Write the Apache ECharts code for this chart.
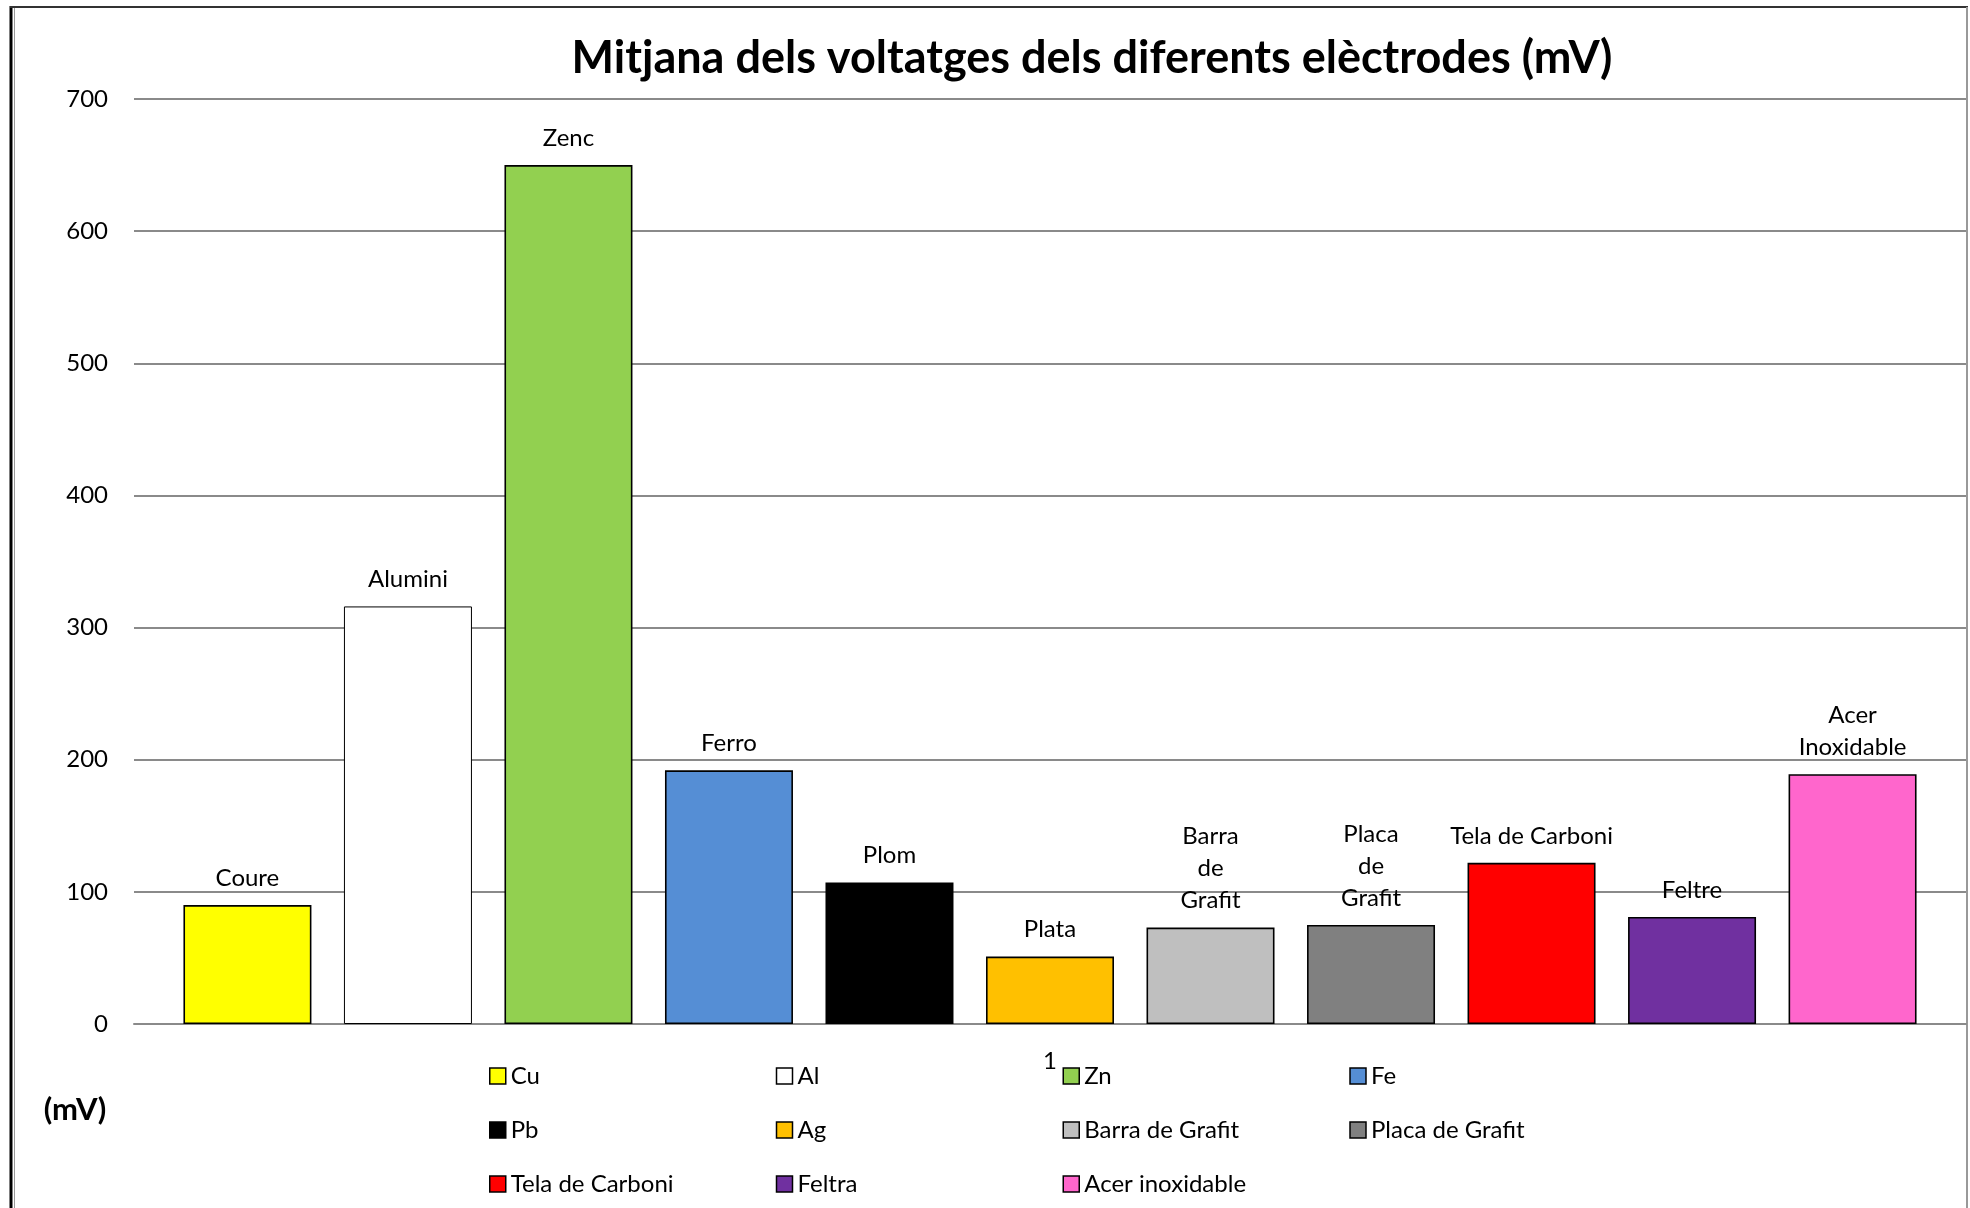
<!DOCTYPE html>
<html>
<head>
<meta charset="utf-8">
<script src="https://cdn.jsdelivr.net/npm/echarts@6/dist/echarts.min.js"></script>
<style>
html,body{margin:0;padding:0;background:#fff;}
#chart{width:1970px;height:1208px;}
</style>
</head>
<body>
<div id="chart"></div>
<script>
const categories = ['1'];
const seriesNames = ['Cu','Al','Zn','Fe','Pb','Ag','Barra de Grafit','Placa de Grafit','Tela de Carboni','Feltra','Acer inoxidable'];
const barLabels = ['Coure','Alumini','Zenc','Ferro','Plom','Plata','Barra\nde\nGrafit','Placa\nde\nGrafit','Tela de Carboni','Feltre','Acer\nInoxidable'];
const values = [90,316,650,192,107,51,73,75,122,81,189];
const colors = ['#FFFF00','#FFFFFF','#92D050','#558ED5','#000000','#FFC000','#BFBFBF','#808080','#FF0000','#7030A0','#FF66CC'];
const yMin = 0, yMax = 700, yStep = 100;

const FONT = 'Lato';
const chart = echarts.init(document.getElementById('chart'), null, {renderer:'canvas'});

const series = seriesNames.map((name, i) => ({
  name: name,
  type: 'bar',
  data: [values[i]],
  barWidth: 128,
  barGap: '25.4%',
  itemStyle: {color: colors[i], borderColor: '#000', borderWidth: i === 1 ? 1 : 1.6},
  label: {
    show: true,
    position: 'top',
    distance: 11,
    formatter: () => barLabels[i],
    color: '#000',
    fontFamily: FONT,
    fontSize: 24,
    lineHeight: 32,
    align: 'center'
  }
}));

const option = {
  backgroundColor: '#fff',
  animation: false,
  title: [
    {
      text: 'Mitjana dels voltatges dels diferents elèctrodes (mV)',
      left: 1087, top: 31, textAlign: 'center',
      textStyle: {fontFamily: FONT, fontWeight: 'bold', fontSize: 45, color: '#000'}
    },
    {
      text: '(mV)',
      left: 70, top: 1089, textAlign: 'center',
      textStyle: {fontFamily: FONT, fontWeight: 'bold', fontSize: 31, color: '#000'}
    }
  ],
  grid: {left: 134, right: 4, top: 99, bottom: 184, containLabel: false},
  xAxis: {
    type: 'category',
    data: categories,
    axisLine: {show: true, lineStyle: {color: '#8a8a8a', width: 2}},
    axisTick: {show: false},
    axisLabel: {color: '#000', fontFamily: FONT, fontSize: 24, margin: 25},
    splitLine: {show: false}
  },
  yAxis: {
    type: 'value',
    min: yMin, max: yMax, interval: yStep,
    axisLine: {show: false},
    axisTick: {show: false},
    axisLabel: {color: '#000', fontFamily: FONT, fontSize: 24, margin: 26},
    splitLine: {show: true, lineStyle: {color: '#8a8a8a', width: 2}}
  },
  legend: {
    left: 484, top: 1049, width: 1140,
    orient: 'horizontal',
    icon: 'rect',
    itemWidth: 16, itemHeight: 16,
    itemGap: 10,
    itemStyle: {borderColor: '#000', borderWidth: 1.5},
    textStyle: {fontFamily: FONT, fontSize: 24, color: '#000', width: 255, lineHeight: 44, overflow: 'none'},
    data: seriesNames
  },
  graphic: [
    {type: 'line', shape: {x1: 11, y1: 6, x2: 11, y2: 1208}, style: {stroke: '#000', lineWidth: 3}, silent: true},
    {type: 'line', shape: {x1: 14.5, y1: 8, x2: 14.5, y2: 1208}, style: {stroke: '#999', lineWidth: 1}, silent: true},
    {type: 'line', shape: {x1: 10, y1: 7, x2: 1968, y2: 7}, style: {stroke: '#333', lineWidth: 2}, silent: true},
    {type: 'line', shape: {x1: 1967, y1: 7, x2: 1967, y2: 1208}, style: {stroke: '#999', lineWidth: 2}, silent: true}
  ],
  series: series
};
chart.setOption(option);
</script>
</body>
</html>
